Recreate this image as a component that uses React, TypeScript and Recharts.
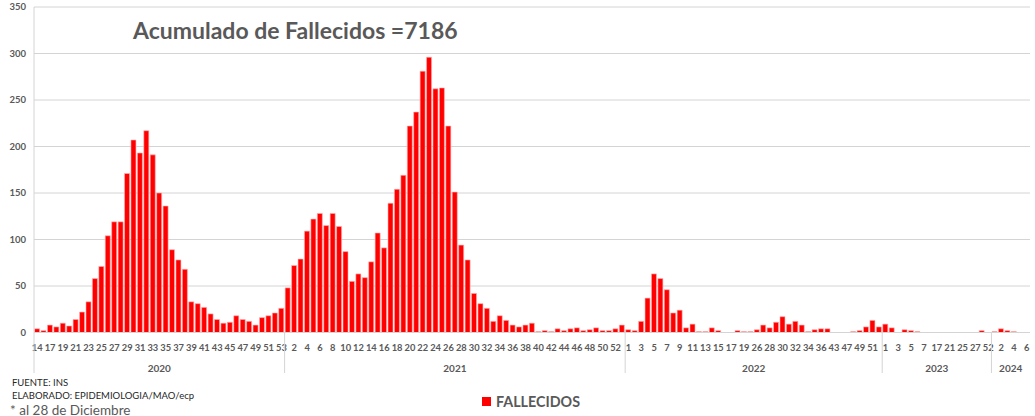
import React from 'react';
import { BarChart, Bar, XAxis, YAxis, CartesianGrid } from 'recharts';

// ---- Data (weekly deaths) ----
const years = ['2020', '2021', '2022', '2023', '2024'];

const weeks2020 = [14, 15, 17, 18, 19, 20, 21, 22, 23, 24, 25, 26, 27, 28, 29, 30, 31, 32, 33, 34, 35, 36, 37, 38, 39, 40, 41, 42, 43, 44, 45, 46, 47, 48, 49, 50, 51, 52, 53];
const deaths2020 = [4, 2, 8, 6, 10, 7, 14, 22, 33, 58, 71, 104, 119, 119, 171, 207, 193, 217, 191, 150, 136, 89, 78, 68, 33, 31, 27, 20, 14, 10, 11, 18, 14, 12, 8, 16, 18, 21, 26];

const weeks2021 = [1, 2, 3, 4, 5, 6, 7, 8, 9, 10, 11, 12, 13, 14, 15, 16, 17, 18, 19, 20, 21, 22, 23, 24, 25, 26, 27, 28, 29, 30, 31, 32, 33, 34, 35, 36, 37, 38, 39, 40, 41, 42, 43, 44, 45, 46, 47, 48, 49, 50, 51, 52, 53];
const deaths2021 = [48, 72, 79, 109, 122, 128, 115, 128, 114, 87, 55, 63, 59, 76, 107, 91, 139, 154, 169, 222, 237, 281, 296, 262, 263, 222, 151, 94, 78, 42, 31, 26, 12, 18, 13, 8, 6, 8, 10, 1, 2, 1, 4, 2, 4, 5, 2, 3, 5, 2, 2, 4, 8];

const weeks2022 = [1, 2, 3, 4, 5, 6, 7, 8, 9, 10, 11, 12, 13, 14, 15, 16, 17, 18, 19, 25, 26, 27, 28, 29, 30, 31, 32, 33, 34, 35, 36, 40, 43, 45, 47, 48, 49, 50, 51, 52];
const deaths2022 = [3, 2, 12, 37, 63, 58, 46, 21, 24, 5, 9, 1, 1, 5, 2, 0, 0, 2, 1, 1, 3, 8, 5, 11, 17, 9, 12, 8, 1, 3, 4, 4, 0, 0, 0, 1, 2, 6, 13, 6];

const weeks2023 = [1, 2, 3, 4, 5, 6, 7, 10, 17, 19, 21, 23, 25, 26, 27, 40, 52];
const deaths2023 = [9, 5, 0, 3, 2, 1, 0, 0, 0, 0, 0, 0, 0, 0, 0, 2, 0];

const weeks2024 = [1, 2, 3, 4, 5, 6];
const deaths2024 = [1, 4, 2, 1, 0, 0];

const yTicks = [0, 50, 100, 150, 200, 250, 300, 350];

const weeksByYear = [weeks2020, weeks2021, weeks2022, weeks2023, weeks2024];
const deathsByYear = [deaths2020, deaths2021, deaths2022, deaths2023, deaths2024];

type Row = { key: string; week: string; year: string; deaths: number; first: boolean; groupSize: number };
const rows: Row[] = [];
years.forEach((yr, g) => {
  weeksByYear[g].forEach((w, i) => {
    rows.push({
      key: `${yr}-${w}`,
      week: String(w),
      year: yr,
      deaths: deathsByYear[g][i],
      first: i === 0,
      groupSize: weeksByYear[g].length,
    });
  });
});

// ---- Layout ----
const W = 1035;
const H = 416;
const MARGIN = { top: 7, right: 5, left: 0, bottom: 43.5 };
const Y_WIDTH = 34;
const X_HEIGHT = 40;
const PLOT_LEFT = MARGIN.left + Y_WIDTH;
const PLOT_RIGHT = W - MARGIN.right;
const PLOT_BOTTOM = H - MARGIN.bottom - X_HEIGHT;
const BW = (PLOT_RIGHT - PLOT_LEFT) / rows.length;

const TEXT = '#595959';
const GRID = '#D4D4D4';
const FONT = 'Lato, "Open Sans", sans-serif';

const WeekTick = (props: any) => {
  const { x } = props;
  const index: number = props.index ?? props.payload?.index ?? 0;
  const row = rows[index];
  if (!row) return null;
  return (
    <g>
      {index % 2 === 0 && (
        <text x={x} y={351} textAnchor="middle" fontSize={9.3} fontWeight="bold" fill={TEXT} fontFamily={FONT}>
          {row.week}
        </text>
      )}
      {row.first && (
        <>
          <line x1={x - BW / 2} x2={x - BW / 2} y1={PLOT_BOTTOM} y2={373} stroke={GRID} strokeWidth={1} />
          <text
            x={x - BW / 2 + (row.groupSize * BW) / 2}
            y={372}
            textAnchor="middle"
            fontSize={10}
            fontWeight="bold"
            fill={TEXT}
            fontFamily={FONT}
          >
            {row.year}
          </text>
        </>
      )}
    </g>
  );
};

export default function App() {
  return (
    <div style={{ position: 'absolute', left: 0, top: 0, width: W, height: H, background: '#fff', fontFamily: FONT }}>
      <BarChart width={W} height={H} data={rows} margin={MARGIN} barCategoryGap="9%">
        <CartesianGrid horizontal={true} vertical={false} stroke={GRID} />
        <XAxis
          dataKey="key"
          height={X_HEIGHT}
          interval={0}
          tickLine={false}
          axisLine={{ stroke: GRID }}
          tick={<WeekTick />}
        />
        <YAxis
          width={Y_WIDTH}
          domain={[0, 350]}
          ticks={yTicks}
          interval={0}
          tickLine={false}
          axisLine={{ stroke: GRID }}
          tick={{ fontSize: 9.5, fontWeight: 'bold', fill: TEXT, fontFamily: FONT }}
        />
        <Bar dataKey="deaths" name="FALLECIDOS" fill="#FF0000" stroke="#FFB0B0" strokeWidth={0.6} isAnimationActive={false} />
      </BarChart>
      <svg width={W} height={H} style={{ position: 'absolute', left: 0, top: 0, pointerEvents: 'none' }}>
        <text x={133} y={39} fontSize={23} fontWeight="bold" fill={TEXT} fontFamily={FONT}>
          Acumulado de Fallecidos =7186
        </text>
        <text x={12} y={386} fontSize={9.5} fill="#262626" fontFamily={FONT}>
          FUENTE: INS
        </text>
        <text x={12} y={399} fontSize={9.5} fill="#262626" fontFamily={FONT}>
          ELABORADO: EPIDEMIOLOGIA/MAO/ecp
        </text>
        <text x={10} y={414.5} fontSize={13.5} fill={TEXT} fontFamily={FONT}>
          * al 28 de Diciembre
        </text>
        <rect x={482} y={397} width={9} height={9} fill="#FF0000" />
        <text x={496} y={407} fontSize={14.3} fontWeight="bold" fill={TEXT} fontFamily={FONT}>
          FALLECIDOS
        </text>
      </svg>
    </div>
  );
}
